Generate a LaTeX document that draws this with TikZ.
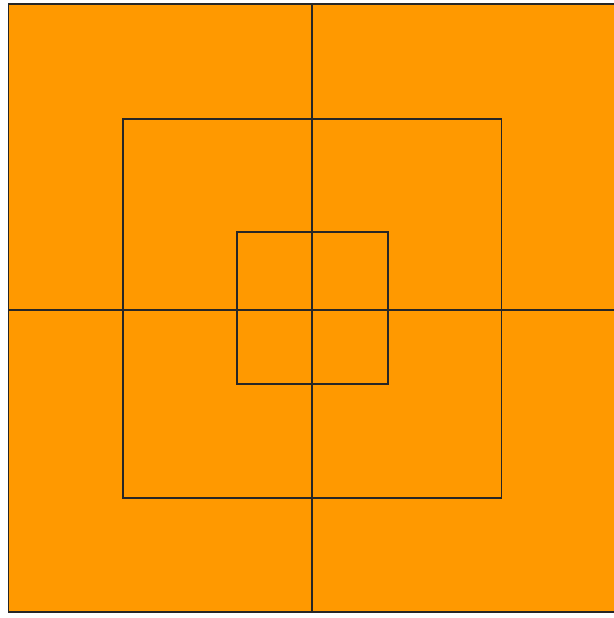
\documentclass[tikz,border=0pt]{standalone}
\usepackage{tikz}
\usepackage{xcolor}
\definecolor{fillorange}{RGB}{255,153,0}

\begin{document}
\begin{tikzpicture}[
    x=0.02cm, y=-0.02cm,
    edge/.style={draw=black!85, line width=0.8pt}
]

\useasboundingbox (0,0) rectangle (614,618);

% outer square, open at the right edge
\fill[fillorange] (8.5,4) rectangle (614,612);
\draw[edge] (614,4) -- (8.5,4) -- (8.5,612) -- (614,612);

% nested squares
\draw[edge] (123,119) rectangle (501.5,498);
\draw[edge] (237,232) rectangle (388,384);

% cross
\coordinate (top) at (312,4);
\coordinate (bottom) at (312,612);
\coordinate (left) at (8.5,310);
\coordinate (right) at (614,310);
\draw[edge] (top) -- (bottom);
\draw[edge] (left) -- (right);

\end{tikzpicture}
\end{document}
